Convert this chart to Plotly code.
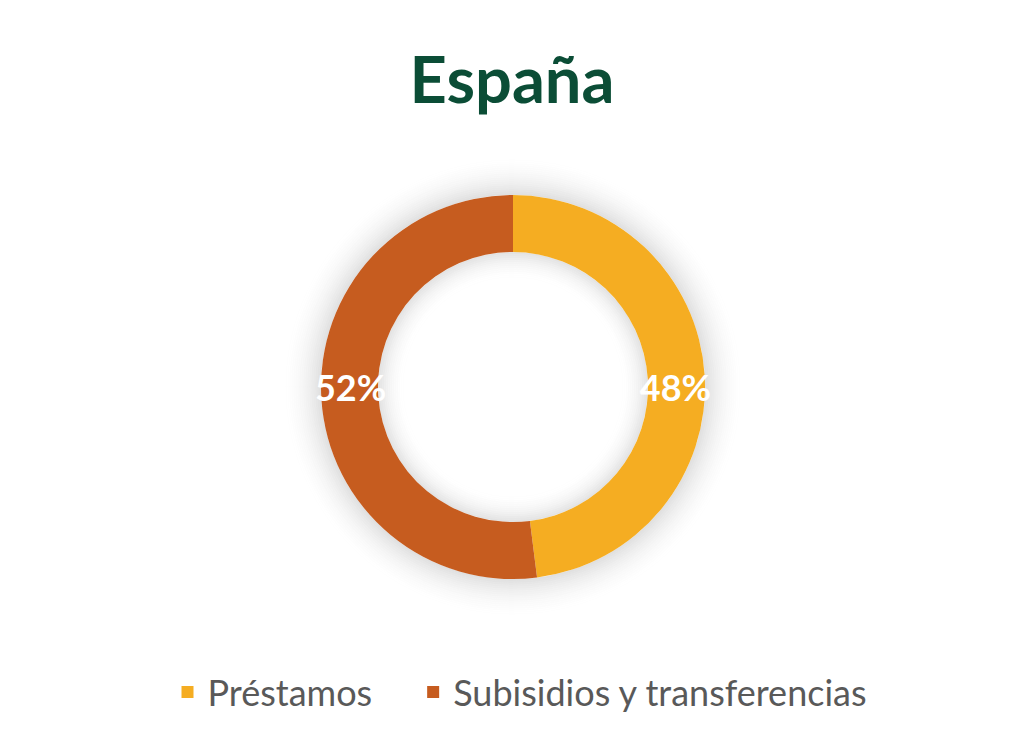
import plotly.graph_objects as go

# data
labels = ['Préstamos', 'Subisidios y transferencias']
values = [48, 52]
colors = ['#F5AD22', '#C65C1F']

# the page body has an 8px margin, so the figure starts at (8, 8)
OFF = 8
W, H = 1024 - OFF, 752 - OFF
cx, cy = 513 - OFF, 387 - OFF      # donut centre in figure pixels
r_out, r_in = 192, 135

# wider gap between the legend entries
legend_labels = [l + '\u2002\u2002' for l in labels[:-1]] + labels[-1:]


def domain(r):
    return dict(x=[(cx - r) / W, (cx + r) / W],
                y=[(H - cy - r) / H, (H - cy + r) / H])


# the ring itself
ring_trace = go.Pie(
    labels=legend_labels, values=values,
    marker=dict(colors=colors, line=dict(width=0)),
    hole=r_in / r_out, sort=False, direction='clockwise', rotation=0,
    textinfo='none', domain=domain(r_out),
    hoverinfo='label+percent',
)

# a wider, transparent copy carries the percentages so they are not shrunk
r_txt = 204
text_trace = go.Pie(
    labels=legend_labels, values=values,
    marker=dict(colors=['rgba(0,0,0,0)'] * len(values), line=dict(width=0)),
    hole=0.6, sort=False, direction='clockwise', rotation=0,
    texttemplate='%{percent:.0%}', textposition='inside',
    insidetextorientation='horizontal',
    textfont=dict(family='Lato', size=36, color='white', weight='bold'),
    domain=domain(r_txt), showlegend=False, hoverinfo='skip',
)

fig = go.Figure([ring_trace, text_trace])


# soft shadow around the ring
def ring(r, alpha):
    return dict(type='circle', xref='paper', yref='paper', layer='below',
                x0=(cx - r) / W, x1=(cx + r) / W,
                y0=(H - cy - r) / H, y1=(H - cy + r) / H,
                line=dict(color='rgba(0,0,0,%.3f)' % alpha, width=2))


shapes = []
for k in range(20):
    shapes.append(ring(r_out + 1 + 2 * k, 0.12 * (1 - k / 20) ** 2))
for k in range(14):
    shapes.append(ring(r_in - 1 - 2 * k, 0.11 * (1 - k / 14) ** 2))

fig.update_layout(
    width=W, height=H,
    margin=dict(l=0, r=0, t=0, b=0),
    paper_bgcolor='white', plot_bgcolor='white',
    title=dict(text='<b>España</b>', x=(512 - OFF) / W, xanchor='center',
               y=1 - (80 - OFF) / H, yanchor='middle',
               font=dict(family='Lato', size=65, color='#0B4D36')),
    legend=dict(orientation='h', x=(520 - OFF) / W, xanchor='center',
                y=1 - (692 - OFF) / H, yanchor='middle',
                font=dict(family='Lato', size=36, color='#595959'),
                itemsizing='constant'),
    shapes=shapes,
)

fig.write_html('out.html')
